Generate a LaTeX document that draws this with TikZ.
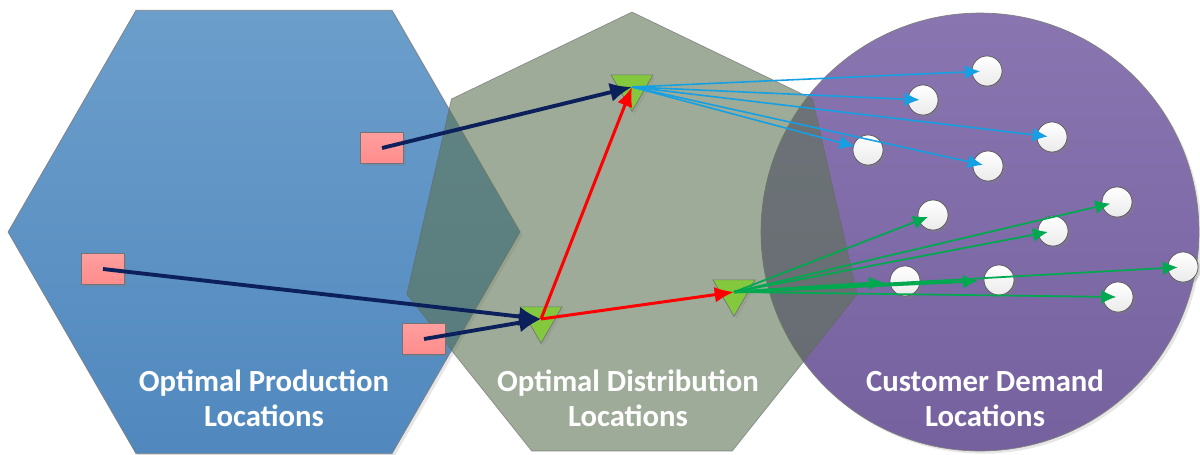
\documentclass[tikz,border=0pt]{standalone}
\usepackage{fontspec}
\setmainfont{Carlito}
\usepackage{xcolor}
\usepackage{tikz}
\usetikzlibrary{shapes.geometric,arrows.meta,shadows}

\definecolor{prodtop}{RGB}{108,158,203}
\definecolor{prodbot}{RGB}{80,136,190}
\definecolor{distfill}{RGB}{92,115,83}
\definecolor{custtop}{RGB}{137,118,177}
\definecolor{custbot}{RGB}{117,97,158}
\definecolor{navyline}{RGB}{12,32,92}
\definecolor{cyanline}{RGB}{20,160,226}
\definecolor{greenline}{RGB}{0,168,80}
\definecolor{depotgreen}{RGB}{132,200,62}

\begin{document}
\begin{tikzpicture}[x=0.02cm,y=-0.02cm,
  zonelabel/.style={text=white,font=\bfseries\fontsize{17.5}{20}\selectfont,align=center},
  plant/.style={draw=black!55,top color=red!38!white,bottom color=red!45!white,
    minimum width=0.86cm,minimum height=0.62cm,inner sep=0pt,
    drop shadow={shadow xshift=1.5pt,shadow yshift=-1.5pt,opacity=0.25}},
  depot/.style={regular polygon,regular polygon sides=3,shape border rotate=180,
    draw=black!55,fill=depotgreen,minimum size=0.97cm,inner sep=0pt,
    drop shadow={shadow xshift=1.5pt,shadow yshift=-1.5pt,opacity=0.2}},
  client/.style={circle,draw=black!65,top color=white,bottom color=black!8,
    minimum size=0.6cm,inner sep=0pt,
    drop shadow={shadow xshift=1.5pt,shadow yshift=-1.5pt,opacity=0.3}},
  supply/.style={-{Latex[length=12.5pt,width=11pt]},line width=2.2pt,navyline},
  transfer/.style={-{Latex[length=11pt,width=9pt]},line width=1.7pt,red},
  deliverN/.style={-{Latex[length=8.5pt,width=8pt]},line width=0.9pt,cyanline},
  deliverE/.style={-{Latex[length=8.5pt,width=8pt]},line width=1pt,greenline}]
\useasboundingbox (0,0) rectangle (1200,454);

% zones
\node[regular polygon,regular polygon sides=6,minimum size=10.24cm,inner sep=0pt,
  draw=black!50,top color=prodtop,bottom color=prodbot,
  drop shadow={shadow xshift=1.5pt,shadow yshift=-1.5pt,opacity=0.2}] (prodzone) at (264,232) {};
\node[circle,minimum size=8.76cm,inner sep=0pt,draw=black!50,
  top color=custtop,bottom color=custbot,
  drop shadow={shadow xshift=1.5pt,shadow yshift=-1.5pt,opacity=0.2}] (custzone) at (980,232) {};
\node[regular polygon,regular polygon sides=7,minimum size=9.24cm,inner sep=0pt,
  fill=distfill,fill opacity=0.6,draw=black!60,draw opacity=0.6] (distzone) at (632,243) {};

\node[zonelabel] at (264,398) {Optimal Production\\Locations};
\node[zonelabel] at (628,398) {Optimal Distribution\\Locations};
\node[zonelabel] at (985,398) {Customer Demand\\Locations};

% plants
\node[plant] (plantA) at (382,148) {};
\node[plant] (plantB) at (103,269) {};
\node[plant] (plantC) at (424,339) {};

% depots
\node[depot] (depotN) at (632,87) {};
\node[depot] (depotW) at (541,319) {};
\node[depot] (depotE) at (734,292) {};

% customers
\node[client] (cust1) at (987,71) {};
\node[client] (cust2) at (923,100) {};
\node[client] (cust3) at (1052,137) {};
\node[client] (cust4) at (868,150) {};
\node[client] (cust5) at (988,166) {};
\node[client] (cust6) at (933,215) {};
\node[client] (cust7) at (1117,202) {};
\node[client] (cust8) at (1053,231) {};
\node[client] (cust9) at (1183,267) {};
\node[client] (cust10) at (905,281) {};
\node[client] (cust11) at (999,280) {};
\node[client] (cust12) at (1118,297) {};

% flows
\draw[supply] (plantA.center) -- (depotN.center);
\draw[supply] (plantB.center) -- (depotW.center);
\draw[supply] (plantC.center) -- (depotW.center);
\draw[transfer] (depotW.center) -- (depotN.center);
\draw[transfer] (depotW.center) -- (depotE.center);

\draw[deliverN,shorten >=4pt] (depotN.center) -- (cust1.center);
\draw[deliverN,shorten >=2pt] (depotN.center) -- (cust2.center);
\draw[deliverN,shorten >=2.5pt] (depotN.center) -- (cust3.center);
\draw[deliverN,shorten >=8pt] (depotN.center) -- (cust4.center);
\draw[deliverN,shorten >=3pt] (depotN.center) -- (cust5.center);

\draw[deliverE,shorten >=3pt] (depotE.center) -- (cust6.center);
\draw[deliverE,shorten >=4pt] (depotE.center) -- (cust7.center);
\draw[deliverE,shorten >=3pt] (depotE.center) -- (cust8.center);
\draw[deliverE,shorten >=3pt] (depotE.center) -- (cust9.center);
\draw[deliverE,line width=1.6pt,shorten >=12pt] (depotE.center) -- (cust10.center);
\draw[deliverE,line width=1.6pt,shorten >=12pt] (depotE.center) -- (cust11.center);
\draw[deliverE,shorten >=1pt] (depotE.center) -- (cust12.center);
\end{tikzpicture}
\end{document}
